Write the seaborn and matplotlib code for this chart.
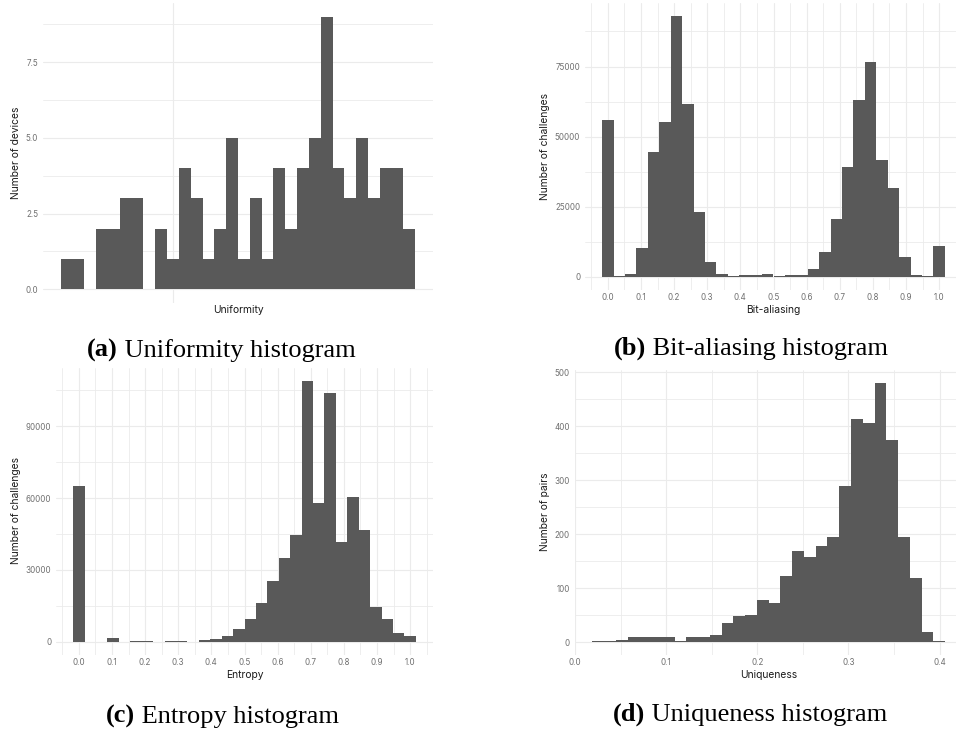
import numpy as np
import pandas as pd
import matplotlib
matplotlib.use("Agg")
import matplotlib.pyplot as plt
import seaborn as sns

# ---- data: histogram counts per bin (30 bins each) ----
uniformity_counts = [1, 1, 0, 2, 2, 3, 3, 0, 2, 1, 4, 3, 1, 2, 5,
                     1, 3, 1, 4, 2, 4, 5, 9, 4, 3, 5, 3, 4, 4, 2]
uniformity_range = (0.4905, 0.5205)          # outer bin edges

bit_aliasing_counts = [55900, 350, 950, 10200, 44500, 55200, 93000, 61600, 23100, 5240,
                       950, 350, 600, 600, 950, 350, 600, 600, 2740, 8800,
                       20600, 39200, 63000, 76600, 41600, 31600, 7000, 600, 350, 10950]
bit_aliasing_range = (0.0, 1.0)               # first / last bin centre

entropy_counts = [64950, 0, 0, 1530, 0, 280, 280, 0, 280, 280,
                  0, 700, 1200, 2450, 5300, 9600, 16100, 25450, 35050, 44640,
                  108760, 58000, 103750, 41580, 60500, 46590, 14460, 9600, 3620, 2360]
entropy_range = (0.0, 1.0)

uniqueness_counts = [3, 3, 5, 9, 10, 10, 9, 3, 10, 9,
                     14, 36, 49, 51, 78, 73, 123, 169, 158, 178,
                     195, 290, 414, 405, 480, 375, 195, 119, 20, 3]
uniqueness_range = (0.0255, 0.3995)

captions = [("(a)", " Uniformity histogram"),
            ("(b)", " Bit-aliasing histogram"),
            ("(c)", " Entropy histogram"),
            ("(d)", " Uniqueness histogram")]

BAR = "#595959"
GRID = "#EBEBEB"
TICK_C = "#707070"
W, H = 956, 731

sns.set_theme(style="white")
plt.rcParams["font.family"] = ["Inter", "DejaVu Sans"]

fig = plt.figure(figsize=(W / 100, H / 100), dpi=100)
fig.patch.set_facecolor("white")


def add_axes_px(left, top, right, bottom):
    return fig.add_axes([left / W, 1 - bottom / H, (right - left) / W, (bottom - top) / H])


def edges_from_centres(lo, hi, n):
    w = (hi - lo) / (n - 1)
    return np.linspace(lo - w / 2, hi + w / 2, n + 1)


def draw_hist(ax, counts, edges):
    centres = (edges[:-1] + edges[1:]) / 2
    df = pd.DataFrame({"value": centres, "count": np.asarray(counts, dtype=float)})
    lo, hi = float(edges[0]), float(edges[-1])
    width = (hi - lo) / len(counts)
    sns.histplot(data=df, x="value", weights="count", binwidth=width, binrange=(lo, hi),
                 ax=ax, color=BAR, alpha=1, linewidth=0)
    pad = 0.05 * (hi - lo)
    ax.set_xlim(lo - pad, hi + pad)
    top = max(counts)
    ax.set_ylim(-0.05 * top, 1.05 * top)


def style(ax, xmaj, xmin, ymaj, ymin, ylabels, xlabels, xlabel, ylabel,
          xlab_px, ylab_px):
    ax.set_axisbelow(True)
    for s in ax.spines.values():
        s.set_visible(False)
    ax.set_xticks(xmaj)
    ax.set_xticks(xmin, minor=True)
    ax.set_yticks(ymaj)
    ax.set_yticks(ymin, minor=True)
    ax.set_yticklabels(ylabels)
    ax.set_xticklabels(xlabels)
    ax.grid(which="major", color=GRID, linewidth=0.8)
    ax.grid(which="minor", color=GRID, linewidth=0.6)
    ax.tick_params(which="both", length=0, labelsize=5.8, labelcolor=TICK_C)
    ax.tick_params(axis="x", pad=2.2)
    ax.tick_params(axis="y", pad=3.4)
    ax.set_xlabel(xlabel, fontsize=7.4, color="#1A1A1A", va="center")
    ax.set_ylabel(ylabel, fontsize=7.4, color="#1A1A1A", va="center")
    ax.xaxis.set_label_coords(xlab_px[0] / W, 1 - xlab_px[1] / H, transform=fig.transFigure)
    ax.yaxis.set_label_coords(ylab_px[0] / W, 1 - ylab_px[1] / H, transform=fig.transFigure)


tenths = np.round(np.arange(0, 1.01, 0.1), 1)
halves = np.round(np.arange(-0.05, 1.1, 0.1), 2)
tenth_labels = [f"{v:.1f}" for v in tenths]

# (a) uniformity
ax_a = add_axes_px(43, 3, 433, 303)
e_a = np.linspace(uniformity_range[0], uniformity_range[1], len(uniformity_counts) + 1)
draw_hist(ax_a, uniformity_counts, e_a)
style(ax_a, [0.5], [], [0, 2.5, 5, 7.5], [1.25, 3.75, 6.25, 8.75],
      ["0.0", "2.5", "5.0", "7.5"], [""], "Uniformity", "Number of devices",
      (238, 310), (15.6, 153))

# (b) bit-aliasing
ax_b = add_axes_px(585, 3, 962, 290)
e_b = edges_from_centres(*bit_aliasing_range, len(bit_aliasing_counts))
draw_hist(ax_b, bit_aliasing_counts, e_b)
style(ax_b, tenths, halves, [0, 25000, 50000, 75000], [12500, 37500, 62500, 87500],
      ["0", "25000", "50000", "75000"], tenth_labels, "Bit-aliasing", "Number of challenges",
      (773.5, 310), (544.7, 146))

# (c) entropy
ax_c = add_axes_px(56, 368, 433, 655)
e_c = edges_from_centres(*entropy_range, len(entropy_counts))
draw_hist(ax_c, entropy_counts, e_c)
style(ax_c, tenths, halves, [0, 30000, 60000, 90000], [15000, 45000, 75000, 105000],
      ["0", "30000", "60000", "90000"], tenth_labels, "Entropy", "Number of challenges",
      (244.5, 675), (15.7, 511))

# (d) uniqueness
ax_d = add_axes_px(574.7, 370, 962.7, 655.3)
e_d = edges_from_centres(*uniqueness_range, len(uniqueness_counts))
draw_hist(ax_d, uniqueness_counts, e_d)
ax_d.set_ylim(-24, 504)
style(ax_d, [0, 0.1, 0.2, 0.3, 0.4], [0.05, 0.15, 0.25, 0.35],
      [0, 100, 200, 300, 400, 500], [50, 150, 250, 350, 450],
      ["0", "100", "200", "300", "400", "500"], ["0.0", "0.1", "0.2", "0.3", "0.4"],
      "Uniqueness", "Number of pairs", (768.7, 675), (544.7, 512))

# sub-figure captions: bold tag + regular title, centred as a pair
cap_pos = [(221, 357), (751, 355), (222, 723), (750, 721)]
serif = ["Liberation Serif", "DejaVu Serif"]
renderer = fig.canvas.get_renderer()
for (tag, title), (cx, base) in zip(captions, cap_pos):
    t1 = fig.text(0, 1 - base / H, tag, fontsize=19, family=serif, weight="bold",
                  va="baseline", ha="left", color="black")
    t2 = fig.text(0, 1 - base / H, title, fontsize=19, family=serif,
                  va="baseline", ha="left", color="black")
    w1 = t1.get_window_extent(renderer).width
    w2 = t2.get_window_extent(renderer).width
    x0 = cx - (w1 + w2) / 2
    t1.set_x(x0 / W)
    t2.set_x((x0 + w1) / W)

fig.savefig("out.png", dpi=100, facecolor="white")
